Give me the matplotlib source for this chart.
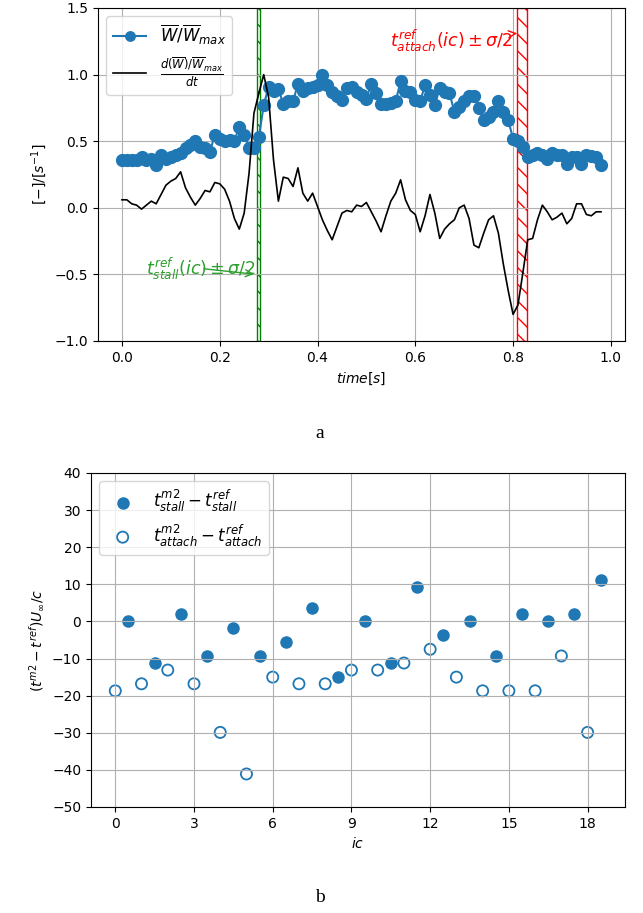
import numpy as np
import matplotlib
matplotlib.use("Agg")
import matplotlib.pyplot as plt

# --- dane: wykres a ---
time = np.round(np.arange(0, 0.985, 0.01), 2)

w_norm = [0.36, 0.36, 0.36, 0.36, 0.38, 0.36, 0.37, 0.32, 0.40, 0.37,
          0.38, 0.40, 0.41, 0.45, 0.47, 0.50, 0.46, 0.45, 0.42, 0.55,
          0.52, 0.50, 0.51, 0.50, 0.61, 0.55, 0.45, 0.45, 0.53, 0.77,
          0.91, 0.88, 0.89, 0.78, 0.80, 0.80, 0.93, 0.88, 0.90, 0.91,
          0.92, 1.00, 0.92, 0.87, 0.84, 0.81, 0.90, 0.91, 0.87, 0.85,
          0.82, 0.93, 0.86, 0.78, 0.78, 0.79, 0.80, 0.95, 0.88, 0.87,
          0.81, 0.80, 0.92, 0.85, 0.77, 0.90, 0.87, 0.86, 0.72, 0.76,
          0.80, 0.84, 0.84, 0.75, 0.66, 0.68, 0.72, 0.80, 0.72, 0.66,
          0.52, 0.50, 0.46, 0.38, 0.40, 0.41, 0.40, 0.37, 0.41, 0.40,
          0.40, 0.33, 0.38, 0.38, 0.33, 0.40, 0.39, 0.38, 0.32]

dw_dt = [0.06, 0.06, 0.03, 0.02, -0.01, 0.02, 0.05, 0.03, 0.10, 0.17,
         0.20, 0.22, 0.27, 0.15, 0.08, 0.02, 0.07, 0.13, 0.12, 0.19,
         0.18, 0.14, 0.05, -0.08, -0.16, -0.04, 0.26, 0.71, 0.86, 1.00,
         0.83, 0.36, 0.05, 0.23, 0.22, 0.16, 0.30, 0.11, 0.05, 0.11,
         0.01, -0.09, -0.17, -0.24, -0.14, -0.04, -0.02, -0.03, 0.02, 0.01,
         0.04, -0.03, -0.10, -0.18, -0.06, 0.05, 0.11, 0.21, 0.06, -0.02,
         -0.05, -0.18, -0.06, 0.10, -0.04, -0.23, -0.16, -0.12, -0.09, 0.00,
         0.02, -0.08, -0.28, -0.30, -0.19, -0.09, -0.06, -0.19, -0.42, -0.62,
         -0.80, -0.73, -0.49, -0.24, -0.23, -0.09, 0.02, -0.03, -0.09, -0.07,
         -0.04, -0.12, -0.08, 0.03, 0.03, -0.05, -0.06, -0.03, -0.03]

t_stall_ref = 0.279
sigma_stall = 0.007
t_attach_ref = 0.818
sigma_attach = 0.020

# --- dane: wykres b ---
ic_stall = np.arange(0.5, 19, 1.0)
d_stall = [0.0, -11.2, 1.9, -9.3, -1.9, -9.3, -5.6, 3.7, -15.0, 0.0,
           -11.2, 9.3, -3.7, 0.0, -9.3, 1.9, 0.0, 1.9, 11.2]
ic_attach = np.arange(0, 19, 1.0)
d_attach = [-18.7, -16.8, -13.1, -16.8, -29.9, -41.1, -15.0, -16.8, -16.8, -13.1,
            -13.1, -11.2, -7.5, -15.0, -18.7, -18.7, -18.7, -9.3, -29.9]

fig = plt.figure(figsize=(6.43, 9.13), dpi=100)

# wykres a
ax1 = fig.add_axes([98 / 643, 1 - 341 / 913, 527 / 643, 333 / 913])
ax1.plot(time, w_norm, 'o-', color='C0', markersize=8.5,
         label=r'$\overline{W}/\overline{W}_{max}$')
ax1.plot(time, dw_dt, '-', color='black', linewidth=1.2,
         label=r'$\frac{d(\overline{W})/\overline{W}_{max}}{dt}$')
ax1.axvspan(t_stall_ref - sigma_stall / 2, t_stall_ref + sigma_stall / 2,
            facecolor='none', edgecolor='green', hatch='\\\\')
ax1.axvspan(t_attach_ref - sigma_attach / 2, t_attach_ref + sigma_attach / 2,
            facecolor='none', edgecolor='red', hatch='\\\\')
ax1.annotate(r'$t^{ref}_{stall}(ic) \pm \sigma/2$',
             xy=(t_stall_ref - sigma_stall / 2, -0.5), xytext=(0.05, -0.5),
             color='C2', fontsize=12.5,
             arrowprops=dict(arrowstyle='->', color='C2'))
ax1.annotate(r'$t^{ref}_{attach}(ic) \pm \sigma/2$',
             xy=(t_attach_ref - sigma_attach / 2, 1.31), xytext=(0.548, 1.21),
             color='red', fontsize=12.5,
             arrowprops=dict(arrowstyle='->', color='red'))
ax1.set_ylim(-1.0, 1.5)
ax1.set_xlabel(r'$time[s]$')
ax1.set_ylabel(r'$[-]/[s^{-1}]$')
ax1.grid(True)
ax1.legend(loc='upper left', fontsize=12, markerscale=0.8)

# wykres b
ax2 = fig.add_axes([91 / 643, 1 - 807 / 913, 534 / 643, 334 / 913])
ax2.scatter(ic_stall, d_stall, s=64, color='C0',
            label=r'$t^{m2}_{stall} - t^{ref}_{stall}$')
ax2.scatter(ic_attach, d_attach, s=64, facecolors='none', edgecolors='C0',
            linewidths=1.3, label=r'$t^{m2}_{attach} - t^{ref}_{attach}$')
ax2.set_ylim(-50, 40)
ax2.set_yticks(np.arange(-50, 41, 10))
ax2.set_xticks(np.arange(0, 19, 3))
ax2.set_xlabel(r'$ic$')
ax2.set_ylabel(r'$(t^{m2}-t^{ref})U_\infty/c$')
ax2.grid(True)
ax2.legend(loc='upper left', fontsize=12)

fig.text(320 / 643, 1 - 433 / 913, 'a', ha='center', va='center',
         family='Liberation Serif', fontsize=14)
fig.text(320 / 643, 1 - 897 / 913, 'b', ha='center', va='center',
         family='Liberation Serif', fontsize=14)

fig.savefig('out.png', dpi=100)
